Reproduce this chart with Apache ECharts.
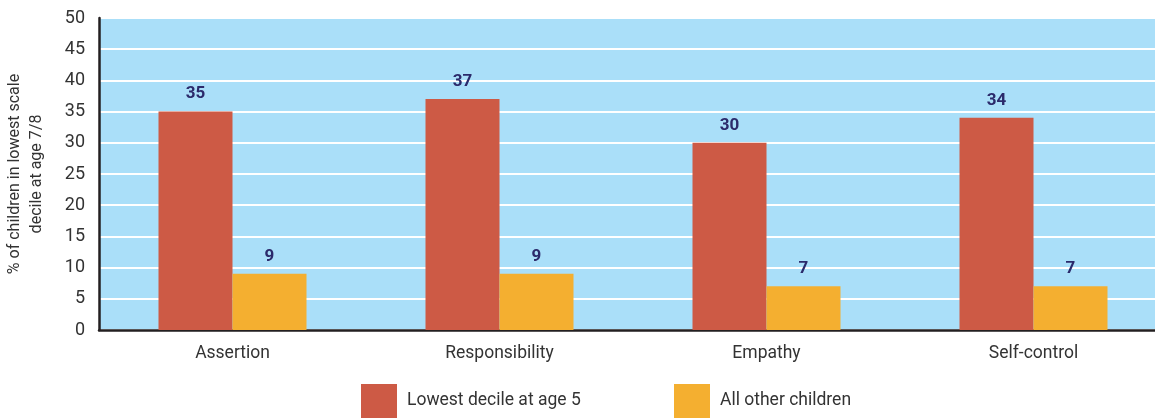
<!DOCTYPE html>
<html>
<head>
<meta charset="utf-8">
<script src="https://cdn.jsdelivr.net/npm/echarts@6/dist/echarts.min.js"></script>
<style>
  html, body { margin: 0; padding: 0; background: #fff; }
  #main { width: 1155px; height: 418px; }
</style>
</head>
<body>
<div id="main"></div>
<script>
  // data
  var categories = ['Assertion', 'Responsibility', 'Empathy', 'Self-control'];
  var lowestDecile = [35, 37, 30, 34];
  var otherChildren = [9, 9, 7, 7];
  var seriesNames = ['Lowest decile at age 5', 'All other children'];

  var navy = '#2b2a6b';
  var labelStyle = {
    show: true,
    position: 'top',
    distance: 9,
    color: navy,
    fontFamily: 'Roboto',
    fontWeight: 'bold',
    fontSize: 17
  };
  var legendText = { fontSize: 17.5, color: '#333', fontFamily: 'Roboto', padding: [0, 0, 0, 5] };

  var myChart = echarts.init(document.getElementById('main'));
  var option = {
    animation: false,
    textStyle: { fontFamily: 'Roboto' },
    grid: {
      left: 99,
      right: -12,  // the plot runs a little past the right edge in the original
      top: 18,
      bottom: 88,
      outerBoundsMode: 'none',
      containLabel: false,
      show: true,
      backgroundColor: '#aadff9',
      borderWidth: 0
    },
    // one legend per item so each square sits where the reference has it
    legend: [
      {
        data: [seriesNames[0]],
        top: 384,
        left: 361,
        padding: 0,
        itemWidth: 36,
        itemHeight: 34,
        icon: 'rect',
        textStyle: legendText
      },
      {
        data: [seriesNames[1]],
        top: 384,
        left: 674,
        padding: 0,
        itemWidth: 36,
        itemHeight: 34,
        icon: 'rect',
        textStyle: legendText
      }
    ],
    xAxis: {
      type: 'category',
      data: categories,
      axisLine: { show: true, lineStyle: { color: '#231f20', width: 2.5 } },
      axisTick: { show: false },
      axisLabel: { fontSize: 17.5, color: '#333', margin: 15 }
    },
    yAxis: {
      type: 'value',
      min: 0,
      max: 50,
      interval: 5,
      name: '% of children in lowest scale\ndecile at age 7/8',
      nameLocation: 'middle',
      nameGap: 51,
      nameTextStyle: { fontSize: 16, color: '#333', lineHeight: 22 },
      axisLine: { show: true, lineStyle: { color: '#231f20', width: 2.5 } },
      axisTick: { show: false },
      axisLabel: { fontSize: 18, color: '#333', margin: 14 },
      splitLine: { show: true, lineStyle: { color: '#ffffff', width: 2 } }
    },
    series: [
      {
        name: seriesNames[0],
        type: 'bar',
        data: lowestDecile,
        barWidth: 74,
        barGap: '0%',
        itemStyle: { color: '#cd5a45' },
        label: labelStyle
      },
      {
        name: seriesNames[1],
        type: 'bar',
        data: otherChildren,
        barWidth: 74,
        barGap: '0%',
        itemStyle: { color: '#f4af30' },
        label: labelStyle
      }
    ]
  };
  myChart.setOption(option);
  window.onresize = function () {
    myChart.resize();
  };
</script>
</body>
</html>
